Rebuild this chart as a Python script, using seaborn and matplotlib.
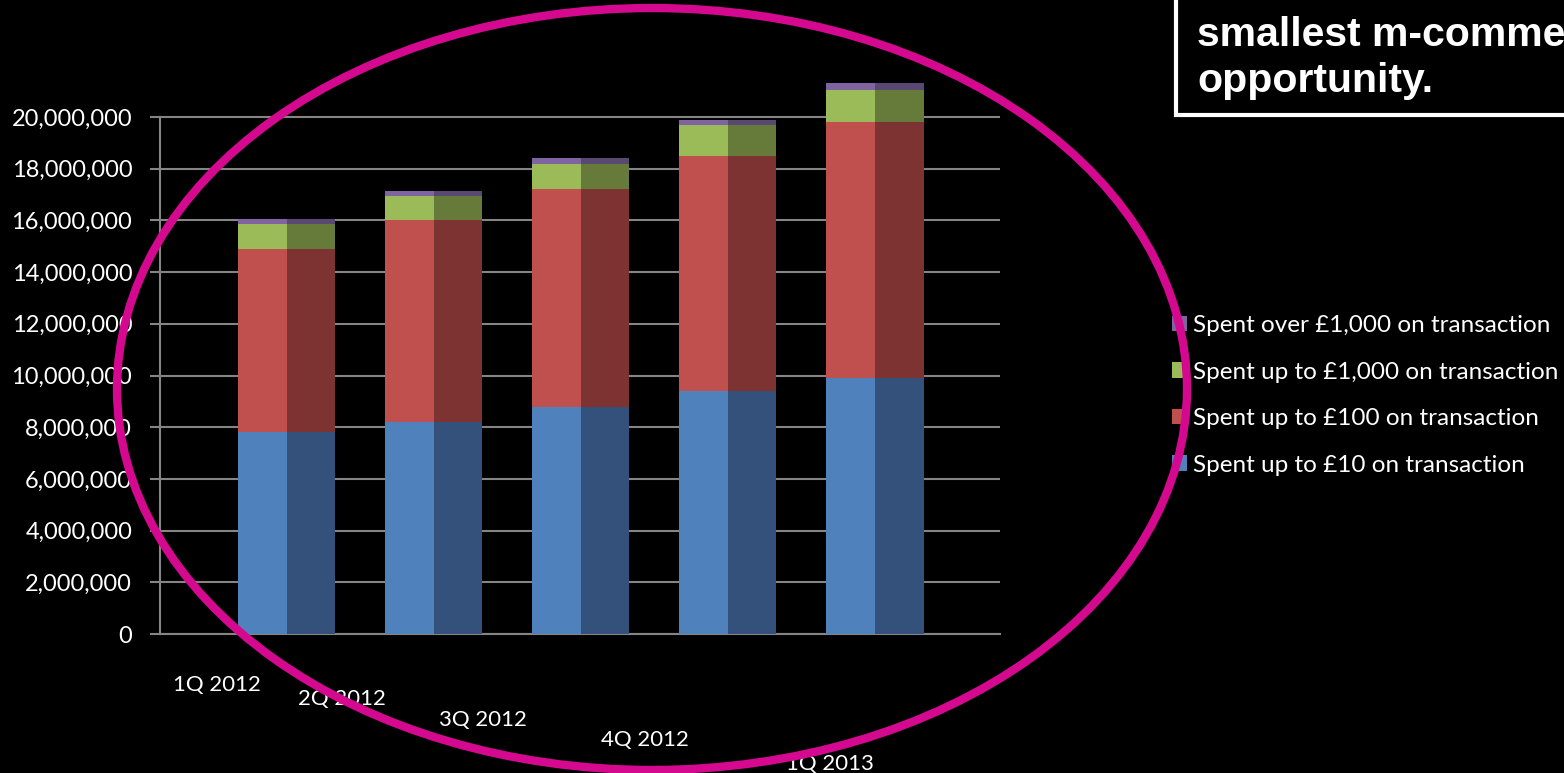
import numpy as np
import pandas as pd
import matplotlib
matplotlib.use("Agg")
import matplotlib.pyplot as plt
import matplotlib.transforms as mtransforms
from matplotlib.patches import Ellipse, Rectangle, Patch
from matplotlib.ticker import FuncFormatter
import seaborn as sns

# ---- data -------------------------------------------------------------
quarters = ["1Q 2012", "2Q 2012", "3Q 2012", "4Q 2012", "1Q 2013"]
spent_up_to_10 = [7_800_000, 8_200_000, 8_800_000, 9_400_000, 9_900_000]
spent_up_to_100 = [7_100_000, 7_800_000, 8_400_000, 9_100_000, 9_900_000]
spent_up_to_1000 = [950_000, 950_000, 1_000_000, 1_200_000, 1_250_000]
spent_over_1000 = [200_000, 200_000, 200_000, 200_000, 250_000]

series_labels = [
    "Spent up to £10 on transaction",
    "Spent up to £100 on transaction",
    "Spent up to £1,000 on transaction",
    "Spent over £1,000 on transaction",
]
y_ticks = list(range(0, 20_000_001, 2_000_000))
callout_lines = ["smallest m-commerce", "opportunity."]

# ---- styling ----------------------------------------------------------
front_colors = ["#4F81BD", "#C0504D", "#9BBB59", "#8064A2"]
side_colors = ["#33517A", "#7D3331", "#667A3A", "#584872"]
grid_gray = "#858585"
ring_color = "#D5098F"

sns.set_theme(style="dark")
plt.rcParams["font.family"] = ["Lato", "DejaVu Sans"]

fig = plt.figure(figsize=(15.64, 7.73), dpi=100, facecolor="black")
ax = fig.add_axes([0.1023, 0.1798, 0.5371, 0.7357])
ax.set_facecolor("black")

layers = [spent_up_to_10, spent_up_to_100, spent_up_to_1000, spent_over_1000]
stack_tops = np.cumsum(np.array(layers, dtype=float), axis=0)

# draw tallest stack first so each lower segment covers the one above it
for k in reversed(range(len(layers))):
    frame = pd.DataFrame({
        "quarter": quarters * 2,
        "face": ["front"] * len(quarters) + ["side"] * len(quarters),
        "value": list(stack_tops[k]) * 2,
    })
    sns.barplot(
        data=frame, x="quarter", y="value", hue="face",
        hue_order=["front", "side"],
        palette={"front": front_colors[k], "side": side_colors[k]},
        dodge=True, width=0.66, gap=0, saturation=1, errorbar=None,
        linewidth=0, legend=False, ax=ax, zorder=3,
    )

ax.set_xlim(-0.86, 4.85)
ax.set_ylim(0, 22_000_000)
ax.set_yticks(y_ticks)
ax.yaxis.set_major_formatter(FuncFormatter(lambda v, _: f"{int(v):,}"))
ax.set_xlabel("")
ax.set_ylabel("")

ax.grid(False)
for v in y_ticks:
    ax.axhline(v, color=grid_gray, lw=1.5, zorder=1)

for side in ["top", "right"]:
    ax.spines[side].set_visible(False)
for side in ["left", "bottom"]:
    ax.spines[side].set_visible(True)
    ax.spines[side].set_color(grid_gray)
    ax.spines[side].set_linewidth(1.5)
ax.spines["left"].set_bounds(0, 20_000_000)

ax.tick_params(axis="y", which="both", left=True, length=7, width=1.5,
               color=grid_gray, labelcolor="white", labelsize=17, pad=13)
ax.tick_params(axis="x", length=0, labelcolor="white", labelsize=16)

# stagger the quarter labels down and to the left, following the receding floor
label_shift_px = [(-70, -36), (-92, -50), (-98, -71), (-83, -91), (-45, -115)]
for lab, (dx, dy) in zip(ax.get_xticklabels(), label_shift_px):
    lab.set_transform(lab.get_transform() +
                      mtransforms.ScaledTranslation(dx / 100, dy / 100, fig.dpi_scale_trans))

# legend, listed top segment first
handles = [Patch(facecolor=front_colors[k], edgecolor="none") for k in reversed(range(4))]
labels = [series_labels[k] for k in reversed(range(4))]
fig.legend(handles, labels, loc="upper left",
           bbox_to_anchor=(1172 / 1564, 1 - 315 / 773), bbox_transform=fig.transFigure,
           frameon=False, fontsize=17.5, labelcolor="white",
           handlelength=0.6, handleheight=0.6, handletextpad=0.25,
           labelspacing=1.05, borderpad=0, borderaxespad=0)

# callout box in the top-right corner
fig.add_artist(Rectangle((1176 / 1564, 1 - 115 / 773), 0.4, 0.3,
                         transform=fig.transFigure, facecolor="black",
                         edgecolor="white", linewidth=3))
for line, base_px in zip(callout_lines, [46, 92]):
    fig.text(1197 / 1564, 1 - base_px / 773, line, color="white",
             fontsize=29.5, fontweight="bold", va="baseline", ha="left",
             family=["Liberation Sans", "DejaVu Sans"])

# highlight ring drawn over the whole chart
fig.add_artist(Ellipse((652 / 1564, 1 - 389 / 773), 1070 / 1564, 762 / 773,
                       transform=fig.transFigure, fill=False,
                       edgecolor=ring_color, linewidth=6, zorder=10))

fig.savefig("out.png", dpi=100, facecolor="black")
